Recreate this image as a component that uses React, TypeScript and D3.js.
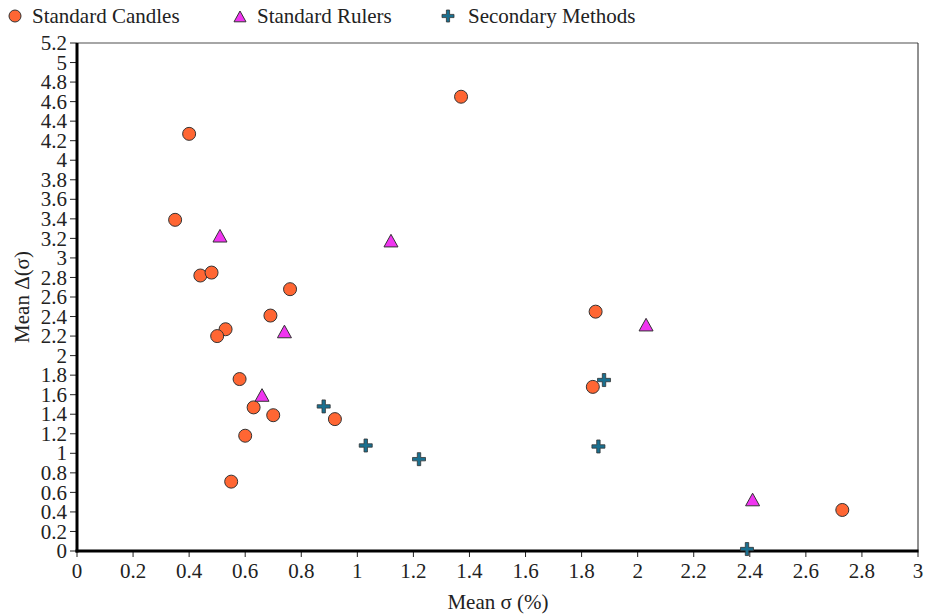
import React from "react";
import * as d3 from "d3";

const candlesX = [0.35, 0.40, 1.37, 0.44, 0.48, 0.76, 0.69, 0.53, 0.50, 0.58, 0.63, 0.70, 0.92, 0.60, 0.55, 1.85, 1.84, 2.73];
const candlesY = [3.39, 4.27, 4.65, 2.82, 2.85, 2.68, 2.41, 2.27, 2.20, 1.76, 1.47, 1.39, 1.35, 1.18, 0.71, 2.45, 1.68, 0.42];
const rulersX = [0.51, 1.12, 0.74, 0.66, 2.03, 2.41];
const rulersY = [3.22, 3.17, 2.24, 1.59, 2.31, 0.52];
const secondaryX = [0.88, 1.03, 1.22, 1.86, 1.88, 2.39];
const secondaryY = [1.48, 1.08, 0.94, 1.07, 1.75, 0.02];
const xTicks = d3.range(0, 3.0001, 0.2).map((v) => +v.toFixed(1));
const yTicks = d3.range(0, 5.2001, 0.2).map((v) => +v.toFixed(1));
const seriesNames = ["Standard Candles", "Standard Rulers", "Secondary Methods"];

const W = 925, H = 615;
const L = 77, R = 918, T = 43, B = 551;
const FONT = "'Liberation Serif', 'Times New Roman', serif";
const FS = 21;
const CANDLE = "#FF6633";
const RULER = "#F035F0";
const SECOND = "#1A7090";

function crossPath(cx: number, cy: number, s = 6.5, w = 1.6) {
  return `M${cx - w},${cy - s}H${cx + w}V${cy - w}H${cx + s}V${cy + w}H${cx + w}V${cy + s}H${cx - w}V${cy + w}H${cx - s}V${cy - w}H${cx - w}Z`;
}
function triPath(cx: number, cy: number, s = 7) {
  return `M${cx},${cy - s}L${cx + s},${cy + s * 0.8}L${cx - s},${cy + s * 0.8}Z`;
}

export default function App() {
  const x = d3.scaleLinear().domain([0, 3]).range([L, R]);
  const y = d3.scaleLinear().domain([0, 5.2]).range([B, T]);
  const fmt = (v: number) => String(v);
  const legendX = [15, 240, 448];
  const legendTextX = [32, 257, 468];
  return (
    <svg width={W} height={H} style={{ position: "absolute", left: 0, top: 0, background: "#fff" }}>
      {/* legend */}
      <g fontFamily={FONT} fontSize={FS} fill="#222">
        <circle cx={legendX[0]} cy={16} r={6} fill={CANDLE} stroke="#333" strokeWidth={1} />
        <text x={legendTextX[0]} y={23}>{seriesNames[0]}</text>
        <path d={triPath(legendX[1], 17, 6)} fill={RULER} stroke="#333" strokeWidth={1} />
        <text x={legendTextX[1]} y={23}>{seriesNames[1]}</text>
        <path d={crossPath(legendX[2], 16, 6, 1.6)} fill={SECOND} stroke="#333" strokeWidth={0.8} />
        <text x={legendTextX[2]} y={23}>{seriesNames[2]}</text>
      </g>
      {/* frame */}
      <line x1={L} x2={R} y1={T} y2={T} stroke="#888" strokeWidth={1.5} />
      <line x1={R} x2={R} y1={T} y2={B} stroke="#222" strokeWidth={1} />
      {/* ticks */}
      <g fontFamily={FONT} fontSize={FS} fill="#222">
        {yTicks.map((t) => (
          <g key={"y" + t}>
            <line x1={L - 7} x2={L} y1={y(t)} y2={y(t)} stroke="#222" strokeWidth={1} />
            <text x={L - 10} y={y(t)} dy="0.34em" textAnchor="end">{fmt(t)}</text>
          </g>
        ))}
        {xTicks.map((t) => (
          <g key={"x" + t}>
            <line x1={x(t)} x2={x(t)} y1={B} y2={B + 6} stroke="#222" strokeWidth={1} />
            <text x={x(t)} y={B + 27} textAnchor="middle">{fmt(t)}</text>
          </g>
        ))}
      </g>
      <line x1={L} x2={L} y1={T} y2={B + 1.5} stroke="#000" strokeWidth={3} />
      <line x1={L - 1.5} x2={R + 0.5} y1={B} y2={B} stroke="#000" strokeWidth={3} />
      {/* axis titles */}
      <text x={498} y={609} textAnchor="middle" fontFamily={FONT} fontSize={FS} fill="#222">Mean σ (%)</text>
      <text transform={`translate(29,${297}) rotate(-90)`} textAnchor="middle" fontFamily={FONT} fontSize={FS} fill="#222">Mean Δ(σ)</text>
      {/* data */}
      {candlesX.map((v, i) => (
        <circle key={"c" + i} cx={x(v)} cy={y(candlesY[i])} r={6.5} fill={CANDLE} stroke="#333" strokeWidth={1} />
      ))}
      {rulersX.map((v, i) => (
        <path key={"r" + i} d={triPath(x(v), y(rulersY[i]), 7)} fill={RULER} stroke="#333" strokeWidth={1} />
      ))}
      {secondaryX.map((v, i) => (
        <path key={"s" + i} d={crossPath(x(v), y(secondaryY[i]), 6.5, 1.7)} fill={SECOND} stroke="#333" strokeWidth={0.8} />
      ))}
    </svg>
  );
}
